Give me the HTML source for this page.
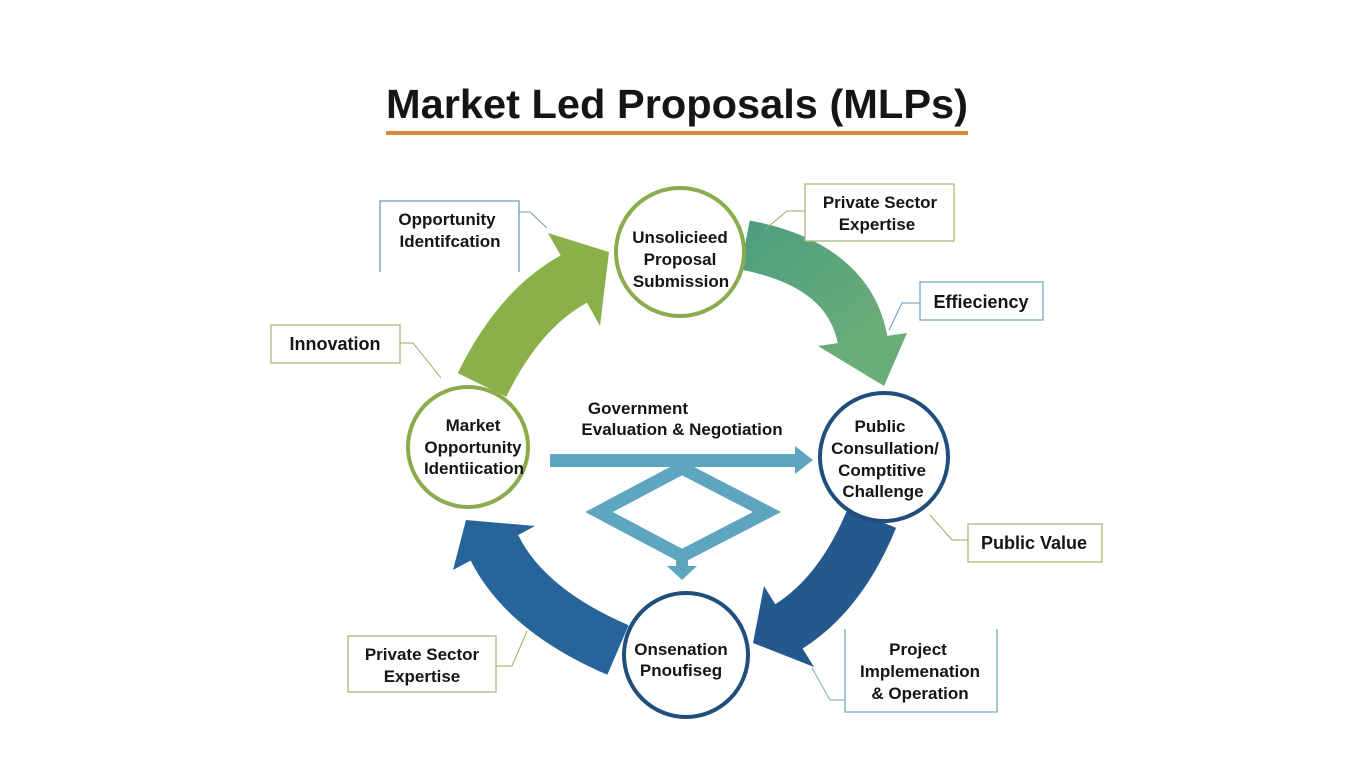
<!DOCTYPE html>
<html><head><meta charset="utf-8"><style>
html,body{margin:0;padding:0;background:#fff;}
svg{display:block;}
text{font-family:"Liberation Sans",sans-serif;font-weight:bold;fill:#151515;}
</style></head><body>
<svg width="1365" height="768" viewBox="0 0 1365 768" xmlns="http://www.w3.org/2000/svg">
<defs>
<linearGradient id="tg" x1="0" y1="0" x2="1" y2="1"><stop offset="0" stop-color="#4f9f7f"/><stop offset="1" stop-color="#6aad78"/></linearGradient>
</defs>
<rect width="1365" height="768" fill="#fff"/>
<text x="386" y="118" font-size="41" textLength="582" lengthAdjust="spacingAndGlyphs">Market Led Proposals (MLPs)</text>
<rect x="386" y="131" width="582" height="4" fill="#d9893a"/>

<!-- green arrow -->
<path d="M482,385 Q519,309 574,279" fill="none" stroke="#8bb04a" stroke-width="54"/>
<polygon points="548,233 609,252 600,326" fill="#8bb04a"/>
<!-- teal arrow -->
<path d="M745,245 Q850,265 863,342" fill="none" stroke="url(#tg)" stroke-width="50"/>
<polygon points="818,346 907,333 884,386" fill="#6aad78"/>
<!-- right blue arrow -->
<path d="M872,518 Q841,594 788,627" fill="none" stroke="#24598e" stroke-width="52"/>
<polygon points="764,586 814,667 753,643" fill="#24598e"/>
<!-- left blue arrow -->
<path d="M618,650 Q525,610 494,547" fill="none" stroke="#27649a" stroke-width="54"/>
<polygon points="453,570 535,526 466,520" fill="#27649a"/>

<!-- center flow -->
<rect x="550" y="454" width="250" height="13" fill="#5ea5c0"/>
<polygon points="795,446 813,460 795,474" fill="#5ea5c0"/>
<polygon points="682,468 767,512 682,556 599,512" fill="none" stroke="#5ea5c0" stroke-width="13"/>
<rect x="676" y="555" width="12" height="15" fill="#5ea5c0"/>
<polygon points="667,566 697,566 682,580" fill="#5ea5c0"/>
<text x="638" y="414" font-size="17" text-anchor="middle">Government</text>
<text x="682" y="435" font-size="17" text-anchor="middle">Evaluation &amp; Negotiation</text>

<!-- circles -->
<circle cx="680" cy="252" r="64" fill="#fff" stroke="#8bab4c" stroke-width="4"/>
<text x="680" y="243" font-size="17" text-anchor="middle">Unsolicieed</text>
<text x="680" y="265" font-size="17" text-anchor="middle">Proposal</text>
<text x="681" y="287" font-size="17" text-anchor="middle">Submission</text>

<circle cx="468" cy="447" r="60" fill="#fff" stroke="#8bab4c" stroke-width="4"/>
<text x="473" y="431" font-size="17" text-anchor="middle">Market</text>
<text x="473" y="453" font-size="17" text-anchor="middle">Opportunity</text>
<text x="474" y="474" font-size="17" text-anchor="middle">Identiication</text>

<circle cx="884" cy="457" r="64" fill="#fff" stroke="#1f4f7a" stroke-width="4"/>
<text x="880" y="432" font-size="17" text-anchor="middle">Public</text>
<text x="885" y="454" font-size="17" text-anchor="middle">Consullation/</text>
<text x="882" y="476" font-size="17" text-anchor="middle">Comptitive</text>
<text x="883" y="497" font-size="17" text-anchor="middle">Challenge</text>

<circle cx="686" cy="655" r="62" fill="#fff" stroke="#1f4f7a" stroke-width="4"/>
<text x="681" y="655" font-size="17" text-anchor="middle">Onsenation</text>
<text x="681" y="676" font-size="17" text-anchor="middle">Pnoufiseg</text>

<!-- callouts -->
<g fill="#fff" stroke-width="1.3">
<path d="M380,272 V201 H519 V272" fill="none" stroke="#6f9bb8"/>
<rect x="271" y="325" width="129" height="38" stroke="#a8bb78"/>
<rect x="805" y="184" width="149" height="57" stroke="#a8bb78"/>
<rect x="920" y="282" width="123" height="38" stroke="#7aaac0"/>
<rect x="968" y="524" width="134" height="38" stroke="#a8bb78"/>
<rect x="348" y="636" width="148" height="56" stroke="#a8bb78"/>
<path d="M997,629 V712 H845 V629" fill="none" stroke="#7aaac0"/>
</g>
<g fill="none" stroke-width="1">
<path d="M519,212 H530 L547,228" stroke="#6f9bb8"/>
<path d="M400,343 H413 L441,378" stroke="#9aab60"/>
<path d="M805,211 H787 L764,230" stroke="#9aab60"/>
<path d="M920,303 H902 L889,330" stroke="#5f9ab8"/>
<path d="M968,540 H952 L930,515" stroke="#9aab60"/>
<path d="M496,666 H512 L527,631" stroke="#9aab60"/>
<path d="M845,700 H830 L812,668" stroke="#7aaac0"/>
</g>
<text x="447" y="225" font-size="17" text-anchor="middle">Opportunity</text>
<text x="450" y="247" font-size="17" text-anchor="middle">Identifcation</text>
<text x="335" y="350" font-size="18" text-anchor="middle">Innovation</text>
<text x="880" y="208" font-size="17" text-anchor="middle">Private Sector</text>
<text x="877" y="230" font-size="17" text-anchor="middle">Expertise</text>
<text x="981" y="308" font-size="18" text-anchor="middle">Effieciency</text>
<text x="1034" y="549" font-size="18" text-anchor="middle">Public Value</text>
<text x="422" y="660" font-size="17" text-anchor="middle">Private Sector</text>
<text x="422" y="682" font-size="17" text-anchor="middle">Expertise</text>
<text x="918" y="655" font-size="17" text-anchor="middle">Project</text>
<text x="920" y="677" font-size="17" text-anchor="middle">Implemenation</text>
<text x="920" y="699" font-size="17" text-anchor="middle">&amp; Operation</text>
</svg>
</body></html>
